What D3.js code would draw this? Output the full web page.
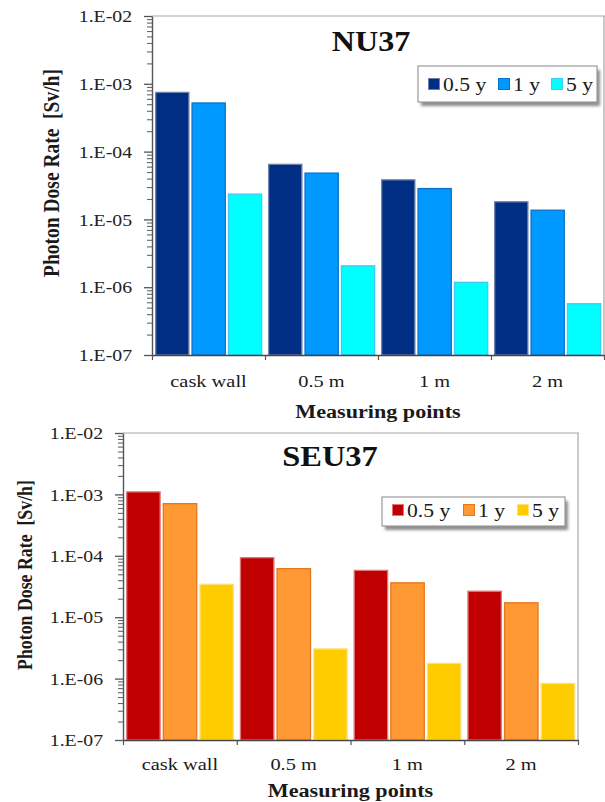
<!DOCTYPE html>
<html><head><meta charset="utf-8">
<script src="https://cdn.jsdelivr.net/npm/d3@7"></script>
<style>
html,body{margin:0;padding:0;background:#fff;}
svg text{font-family:"Liberation Serif","Times New Roman",serif;fill:#1a1a1a;}
</style></head>
<body><svg id="c" width="605" height="802"></svg>
<script>
// ---- data ----
const categories = ["cask wall", "0.5 m", "1 m", "2 m"];
const seriesNames = ["0.5 y", "1 y", "5 y"];
const nu37_05y = [7.6e-4, 6.6e-5, 3.9e-5, 1.85e-5];
const nu37_1y  = [5.3e-4, 4.9e-5, 2.9e-5, 1.39e-5];
const nu37_5y  = [2.4e-5, 2.1e-6, 1.2e-6, 5.8e-7];
const seu37_05y = [1.12e-3, 9.5e-5, 5.9e-5, 2.7e-5];
const seu37_1y  = [7.2e-4, 6.3e-5, 3.7e-5, 1.75e-5];
const seu37_5y  = [3.5e-5, 3.1e-6, 1.8e-6, 8.5e-7];
const yTickValues = [1e-7, 1e-6, 1e-5, 1e-4, 1e-3, 1e-2];
const yTickLabels = ["1.E-07", "1.E-06", "1.E-05", "1.E-04", "1.E-03", "1.E-02"];
const xTitle = "Measuring points";
const yTitle = "Photon Dose Rate\u00a0\u00a0[Sv/h]";

// ---- layout / style ----
const charts = [
  { title: "NU37", series: [nu37_05y, nu37_1y, nu37_5y],
    fill: ["#002E85", "#0099FF", "#00FFFF"], stroke: ["#6F82AE", "#0A72C8", "#3CCBF5"],
    l: 152, r: 604, t: 16, b: 355,
    titleX: 371, titleY: 51, titleSize: 30, titleScale: 1.07,
    legend: { x: 418, y: 66, w: 179, h: 36, items: [10, 80, 133], textY: 25 },
    xLabelDy: 32, xTitleY: 418, yTitleX: 59, yTitleY: 173, yTitleSize: 19.5 },
  { title: "SEU37", series: [seu37_05y, seu37_1y, seu37_5y],
    fill: ["#C00000", "#FF9933", "#FFCC00"], stroke: ["#E07878", "#E8761C", "#FFE07A"],
    l: 123, r: 578, t: 433, b: 740,
    titleX: 330, titleY: 466, titleSize: 29, titleScale: 1.12,
    legend: { x: 382, y: 497, w: 183, h: 29, items: [10, 81, 135], textY: 20 },
    xLabelDy: 30, xTitleY: 797, yTitleX: 32, yTitleY: 575, yTitleSize: 17.8 }
];

const svg = d3.select("#c");
const defs = svg.append("defs");
const f = defs.append("filter").attr("id", "sh").attr("x", "-10%").attr("y", "-20%").attr("width", "130%").attr("height", "160%");
f.append("feGaussianBlur").attr("stdDeviation", 1.6);

charts.forEach(c => {
  const g = svg.append("g");
  const y = d3.scaleLog().domain([1e-7, 1e-2]).range([c.b, c.t]);
  const x0 = d3.scaleBand().domain(categories).range([c.l, c.r]).paddingInner(0).paddingOuter(0);
  const bw = x0.bandwidth();
  const x1 = d3.scaleBand().domain(seriesNames).range([0.028 * bw, 0.975 * bw]).paddingInner(0.06);

  // frame (top & right)
  g.append("line").attr("x1", c.l).attr("x2", c.r + 1).attr("y1", c.t).attr("y2", c.t).attr("stroke", "#a6a6a6").attr("stroke-width", 1.2);
  g.append("line").attr("x1", c.r).attr("x2", c.r).attr("y1", c.t).attr("y2", c.b).attr("stroke", "#a6a6a6").attr("stroke-width", 1.2);

  // bars
  c.series.forEach((vals, si) => {
    g.append("g").selectAll("rect").data(vals).join("rect")
      .attr("x", (d, i) => x0(categories[i]) + x1(seriesNames[si]) + 0.5)
      .attr("y", d => y(d) + 0.5)
      .attr("width", x1.bandwidth() - 1)
      .attr("height", d => c.b - y(d) - 0.5)
      .attr("fill", c.fill[si]).attr("stroke", c.stroke[si]).attr("stroke-width", 1.3);
  });

  // minor y ticks
  const minor = [];
  for (let e = -7; e < -2; e++) for (let k = 2; k <= 9; k++) minor.push(k * Math.pow(10, e));
  const ym = g.append("g").attr("transform", `translate(${c.l},0)`)
    .call(d3.axisLeft(y).tickValues(minor).tickSize(5).tickSizeOuter(0).tickFormat(""));
  ym.select(".domain").remove();
  ym.selectAll("line").attr("stroke", "#666").attr("stroke-width", 1.1);

  // major y axis
  const ya = g.append("g").attr("transform", `translate(${c.l},0)`)
    .call(d3.axisLeft(y).tickValues(yTickValues).tickSize(8).tickSizeOuter(0)
      .tickFormat((d, i) => yTickLabels[i]));
  ya.select(".domain").attr("stroke", "#555").attr("stroke-width", 1.4);
  ya.selectAll("line").attr("stroke", "#555").attr("stroke-width", 1.3);
  ya.selectAll("text").attr("x", -20 / 1.19).attr("dy", "0.34em")
    .attr("transform", "scale(1.19,1)")
    .style("font-size", "16.6px").style("fill", "#222");

  // x axis boundary ticks
  const xb = d3.scaleLinear().domain([0, categories.length]).range([c.l, c.r]);
  const xa = g.append("g").attr("transform", `translate(0,${c.b})`)
    .call(d3.axisBottom(xb).tickValues(d3.range(categories.length + 1)).tickSize(5).tickSizeOuter(0).tickFormat(""));
  xa.select(".domain").attr("stroke", "#444").attr("stroke-width", 1.4);
  xa.selectAll("line").attr("stroke", "#555").attr("stroke-width", 1.2);

  // x category labels
  const xl = g.append("g").attr("transform", `translate(0,${c.b})`)
    .call(d3.axisBottom(x0).tickSize(0).tickPadding(0));
  xl.select(".domain").remove();
  xl.selectAll("text").attr("y", 0).attr("dy", 0)
    .attr("transform", function () { return `translate(0,${c.xLabelDy}) scale(1.2,1)`; })
    .style("font-size", "17px").style("fill", "#1a1a1a");
  // fix scaled x position: move tick groups so scaling around the tick origin
  xl.selectAll(".tick text").attr("x", 0);

  // axis titles
  g.append("text").attr("transform", `translate(${(c.l + c.r) / 2},${c.xTitleY}) scale(1.23,1)`)
    .attr("text-anchor", "middle").style("font-size", "18px").style("font-weight", "bold").text(xTitle);
  g.append("text").attr("transform", `translate(${c.yTitleX},${c.yTitleY}) scale(1.2,1) rotate(-90)`)
    .attr("text-anchor", "middle").style("font-size", c.yTitleSize + "px").style("font-weight", "bold").text(yTitle);

  // chart title
  g.append("text").attr("transform", `translate(${c.titleX},${c.titleY}) scale(${c.titleScale},1)`)
    .attr("text-anchor", "middle").style("font-size", c.titleSize + "px").style("font-weight", "bold")
    .style("fill", "#111").text(c.title);

  // legend
  const L = c.legend;
  const lg = g.append("g").attr("transform", `translate(${L.x},${L.y})`);
  lg.append("rect").attr("x", 3).attr("y", 4).attr("width", L.w).attr("height", L.h)
    .attr("fill", "#8c8c8c").attr("filter", "url(#sh)");
  lg.append("rect").attr("width", L.w).attr("height", L.h).attr("fill", "#fff")
    .attr("stroke", "#9a9a9a").attr("stroke-width", 1.2);
  seriesNames.forEach((s, i) => {
    lg.append("rect").attr("x", L.items[i] + 0.5).attr("y", L.textY - 12.5).attr("width", 11).attr("height", 11)
      .attr("fill", c.fill[i]).attr("stroke", c.stroke[i]).attr("stroke-width", 1);
    lg.append("text").attr("transform", `translate(${L.items[i] + 15},${L.textY}) scale(1.2,1)`)
      .style("font-size", "18px").text(s);
  });
});
</script></body></html>
